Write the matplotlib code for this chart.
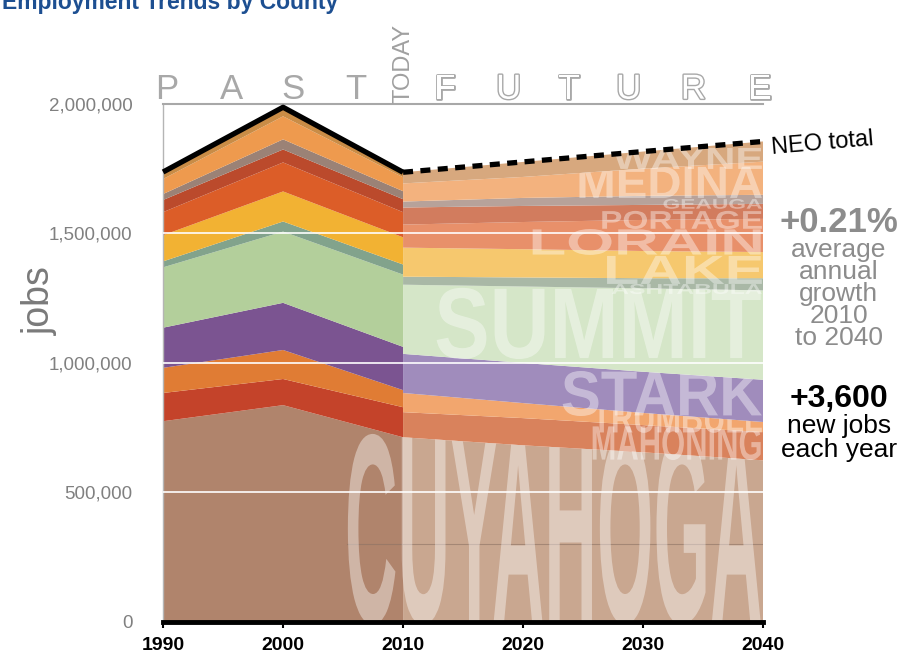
import numpy as np
import matplotlib
matplotlib.use("Agg")
import matplotlib.pyplot as plt
from matplotlib.textpath import TextPath
from matplotlib.patches import PathPatch, Polygon
from matplotlib.font_manager import FontProperties, findfont
from matplotlib.transforms import Affine2D
import matplotlib.patheffects as pe
from matplotlib.ticker import FuncFormatter

# ------------------------------------------------------------------ #
# Data (thousands of jobs), stacked bottom -> top
# ------------------------------------------------------------------ #
counties = ["CUYAHOGA", "MAHONING", "TRUMBULL", "STARK", "SUMMIT",
            "ASHTABULA", "LAKE", "LORAIN", "PORTAGE", "GEAUGA",
            "MEDINA", "WAYNE"]

past_years = [1990, 2000, 2010]
past_jobs = [
    [775, 837, 713],   # Cuyahoga
    [109, 101, 116],   # Mahoning
    [97, 112, 66],     # Trumbull
    [155, 182, 167],   # Stark
    [233, 275, 279],   # Summit
    [23, 39, 39],      # Ashtabula
    [101, 116, 105],   # Lake
    [89, 112, 97],     # Lorain
    [47, 50, 50],      # Portage
    [23, 39, 31],      # Geauga
    [58, 89, 54],      # Medina
    [27, 35, 19],      # Wayne
]

future_years = [2010, 2020, 2030, 2040]
future_jobs = [
    [713, 682, 655, 624],   # Cuyahoga
    [97, 105, 105, 109],    # Mahoning
    [74, 58, 47, 39],       # Trumbull
    [151, 155, 159, 163],   # Stark
    [267, 295, 322, 345],   # Summit
    [31, 35, 39, 47],       # Ashtabula
    [112, 109, 105, 101],   # Lake
    [89, 105, 120, 128],    # Lorain
    [66, 62, 58, 58],       # Portage
    [23, 31, 35, 35],       # Geauga
    [70, 81, 105, 128],     # Medina
    [43, 58, 66, 78],       # Wayne
]

past_colors = ["#b0846c", "#c4432a", "#e07c34", "#7b5491", "#b3cf9b",
               "#82a38c", "#f2b233", "#dc5d28", "#bb4a2c", "#9b8276",
               "#ee9a4e", "#c98c46"]
future_colors = ["#c9a790", "#d9825c", "#f2a66e", "#a08cbc", "#d5e6c8",
                 "#a9b8a6", "#f6c86e", "#e8906a", "#d27c5e", "#b7a29a",
                 "#f3b27e", "#d7a87e"]

# label boxes in data space: (x0, x1, y0, y1) years / jobs
label_boxes = {
    "CUYAHOGA": (2005.4, 2039.8, -10e3, 726e3),
    "MAHONING": (2025.8, 2039.8, 625e3, 757e3),
    "TRUMBULL": (2025.8, 2039.9, 730e3, 846e3),
    "STARK": (2023.3, 2039.9, 795e3, 969e3),
    "SUMMIT": (2012.8, 2039.8, 1015e3, 1290e3),
    "ASHTABULA": (2027.4, 2039.9, 1266e3, 1305e3),
    "LAKE": (2027.0, 2039.9, 1305e3, 1413e3),
    "LORAIN": (2020.8, 2039.8, 1417e3, 1517e3),
    "PORTAGE": (2026.6, 2039.9, 1517e3, 1587e3),
    "GEAUGA": (2031.7, 2039.9, 1595e3, 1633e3),
    "MEDINA": (2024.7, 2039.9, 1637e3, 1757e3),
    "WAYNE": (2027.5, 2039.9, 1749e3, 1830e3),
}

plt.rcParams["font.family"] = ["Liberation Sans", "DejaVu Sans"]

past = np.array(past_jobs) * 1000.0
future = np.array(future_jobs) * 1000.0

fig = plt.figure(figsize=(9.11, 6.6), dpi=100)
ax = fig.add_axes([0.179, 0.0576, 0.6586, 0.785])

ax.stackplot(past_years, past, colors=past_colors, lw=0)
ax.stackplot(future_years, future, colors=future_colors, lw=0)

# grid lines on top of the areas
for g in [500e3, 1000e3, 1500e3]:
    ax.axhline(g, color="white", lw=1.4, alpha=0.85, zorder=3)
ax.plot([2005.3, 2040], [302e3, 302e3], color="#8c7264", lw=0.8,
        alpha=0.6, zorder=3)

# county names, stretched to fill their boxes and clipped to band top
try:
    findfont(FontProperties(family="Liberation Sans Narrow", weight="bold"),
             fallback_to_default=False)
    big_font = FontProperties(family="Liberation Sans Narrow", weight="bold")
except Exception:
    big_font = FontProperties(family="Liberation Sans", weight="bold")

clip_years = [1990, 2000] + future_years
cum_past = np.cumsum(past, axis=0)
cum_future = np.cumsum(future, axis=0)
for i, name in enumerate(counties):
    x0, x1, y0, y1 = label_boxes[name]
    tp = TextPath((0, 0), name, size=1, prop=big_font)
    bb = tp.get_extents()
    tr = (Affine2D().translate(-bb.x0, -bb.y0)
          .scale((x1 - x0) / bb.width, (y1 - y0) / bb.height)
          .translate(x0, y0) + ax.transData)
    patch = PathPatch(tp, transform=tr, fc="white", ec="none",
                      alpha=0.4, zorder=4)
    ax.add_patch(patch)
    top = list(cum_past[i, :2]) + list(cum_future[i])
    verts = [(x, t) for x, t in zip(clip_years, top)]
    verts += [(2040, -50e3), (1990, -50e3)]
    clip = Polygon(verts, closed=True, transform=ax.transData)
    patch.set_clip_path(clip)

# NEO total
ax.plot(past_years, past.sum(axis=0), color="black", lw=3.8,
        solid_capstyle="butt", zorder=5, clip_on=False)
ax.plot(future_years, future.sum(axis=0), color="black", lw=3.8,
        ls=(0, (1.9, 1.4)), zorder=5, clip_on=False)

ax.set_xlim(1990, 2040)
ax.set_ylim(0, 2000e3)
ax.set_xticks([1990, 2000, 2010, 2020, 2030, 2040])
ax.set_yticks([0, 500e3, 1000e3, 1500e3, 2000e3])
ax.yaxis.set_major_formatter(FuncFormatter(lambda v, p: f"{int(v):,}"))
ax.tick_params(axis="y", length=0, pad=22, labelsize=13.5,
               labelcolor="#808080")
ax.tick_params(axis="x", direction="out", length=4, width=1.5,
               labelsize=14, pad=7)
for lab in ax.get_xticklabels():
    lab.set_fontweight("bold")
ax.spines["right"].set_visible(False)
ax.spines["left"].set_color("#b5b5b5")
ax.spines["left"].set_linewidth(1.0)
ax.spines["top"].set_color("#a8a8a8")
ax.spines["top"].set_linewidth(1.5)
ax.spines["bottom"].set_color("black")
ax.spines["bottom"].set_linewidth(3.5)
ax.spines["bottom"].set_zorder(6)

# PAST / TODAY / FUTURE header
for ch, xv in zip("PAST", [1990.3, 1995.7, 2000.8, 2006.1]):
    ax.text(xv, 2020e3, ch, ha="center", va="baseline", fontsize=25,
            color="#a8a8a8", clip_on=False)
for ch, xv in zip("FUTURE", [2013.5, 2018.8, 2023.8, 2028.8, 2034.2, 2039.7]):
    ax.text(xv, 2020e3, ch, ha="center", va="baseline", fontsize=25,
            color="white", clip_on=False,
            path_effects=[pe.withStroke(linewidth=2.0, foreground="#a8a8a8")])
ax.text(2010, 2003e3, "TODAY", rotation=90, ha="center", va="bottom",
        fontsize=17, color="#a0a0a0", clip_on=False)

# right side annotations
ax.text(2040.6, 1848e3, "NEO total", ha="left", va="center", rotation=5,
        fontsize=17, color="black", clip_on=False)
xr = 2046.3
ax.text(xr, 1541e3, "+0.21%", ha="center", va="center", fontsize=25,
        weight="bold", color="#8c8c8c", clip_on=False)
for s, yv in zip(["average", "annual", "growth", "2010", "to 2040"],
                 [1436e3, 1352e3, 1268e3, 1181e3, 1097e3]):
    ax.text(xr, yv, s, ha="center", va="center", fontsize=19,
            color="#8c8c8c", clip_on=False)
ax.text(xr, 860e3, "+3,600", ha="center", va="center", fontsize=23,
        weight="bold", color="black", clip_on=False)
ax.text(xr, 757e3, "new jobs", ha="center", va="center", fontsize=19,
        color="black", clip_on=False)
ax.text(xr, 662e3, "each year", ha="center", va="center", fontsize=19,
        color="black", clip_on=False)

fig.text(0.044, 0.545, "jobs", rotation=90, ha="center", va="center",
         fontsize=27, color="#7a7a7a")
fig.text(0.002, 1 - 9 / 660, "Employment Trends by County", ha="left",
         va="baseline", fontsize=16.5, weight="bold", color="#1d4f91")

fig.savefig("out.png", dpi=100)
